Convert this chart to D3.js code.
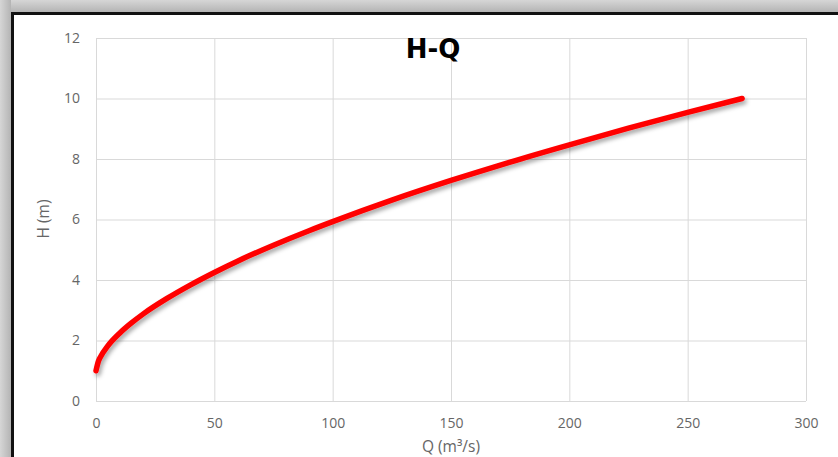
<!DOCTYPE html>
<html>
<head>
<meta charset="utf-8">
<script src="https://cdn.jsdelivr.net/npm/d3@7"></script>
<style>
  html, body { margin: 0; padding: 0; background: #ffffff; }
  svg { display: block; }
</style>
</head>
<body>
<svg id="chart" width="838" height="457"></svg>
<script>
// Data
const qValues = [0, 1, 2, 5, 10, 15, 20, 30, 40, 50, 60, 75, 90, 100, 125, 150, 175, 200, 225, 250, 273];
const hValues = [1.0, 1.31, 1.47, 1.82, 2.24, 2.58, 2.88, 3.39, 3.84, 4.25, 4.63, 5.15, 5.63, 5.93, 6.64, 7.29, 7.90, 8.47, 9.02, 9.54, 10.0];
const xTicks = [0, 50, 100, 150, 200, 250, 300];
const yTicks = [0, 2, 4, 6, 8, 10, 12];
const chartTitle = "H-Q";
const xTitle = "Q (m³/s)";
const yTitle = "H (m)";

(function () {
const svg = d3.select("#chart");
const W = 838, H = 457;

// Frame / backdrop
const defs = svg.append("defs");
const gTop = defs.append("linearGradient").attr("id", "gTop").attr("x1", 0).attr("y1", 0).attr("x2", 0).attr("y2", 1);
gTop.append("stop").attr("offset", "0%").attr("stop-color", "#d6d6d6");
gTop.append("stop").attr("offset", "100%").attr("stop-color", "#b4b4b4");
const gLeft = defs.append("linearGradient").attr("id", "gLeft").attr("x1", 0).attr("y1", 0).attr("x2", 1).attr("y2", 0);
gLeft.append("stop").attr("offset", "0%").attr("stop-color", "#d6d6d6");
gLeft.append("stop").attr("offset", "100%").attr("stop-color", "#b4b4b4");

svg.append("rect").attr("x", 0).attr("y", 0).attr("width", W).attr("height", 12).attr("fill", "url(#gTop)");
svg.append("rect").attr("x", 0).attr("y", 0).attr("width", 11).attr("height", H).attr("fill", "url(#gLeft)");
svg.append("rect").attr("x", 11).attr("y", 12).attr("width", W - 11).attr("height", 3).attr("fill", "#111");
svg.append("rect").attr("x", 11).attr("y", 12).attr("width", 3).attr("height", H - 12).attr("fill", "#111");
svg.append("rect").attr("x", 14).attr("y", 15).attr("width", W - 14).attr("height", H - 15).attr("fill", "#ffffff");

// Drop shadow filter for the line
const f = defs.append("filter").attr("id", "shadow").attr("x", "-10%").attr("y", "-10%").attr("width", "130%").attr("height", "130%");
f.append("feDropShadow").attr("dx", 2).attr("dy", 3).attr("stdDeviation", 2)
  .attr("flood-color", "#000").attr("flood-opacity", 0.35);

const pLeft = 96, pRight = 806, pTop = 38, pBottom = 401;
const x = d3.scaleLinear().domain([0, 300]).range([pLeft, pRight]);
const y = d3.scaleLinear().domain([0, 12]).range([pBottom, pTop]);

const gridColor = "#d9d9d9";
const labelColor = "#666666";
const font = "'Open Sans', 'DejaVu Sans', sans-serif";

// Gridlines
svg.append("g").selectAll("line").data(yTicks).join("line")
  .attr("x1", pLeft).attr("x2", pRight)
  .attr("y1", d => y(d) + 0.5).attr("y2", d => y(d) + 0.5)
  .attr("stroke", gridColor).attr("stroke-width", 1);
svg.append("g").selectAll("line").data(xTicks).join("line")
  .attr("y1", pTop).attr("y2", pBottom)
  .attr("x1", d => x(d) + 0.5).attr("x2", d => x(d) + 0.5)
  .attr("stroke", gridColor).attr("stroke-width", 1);

// Axes (labels only, via d3 axes)
const xAxis = d3.axisBottom(x).tickValues(xTicks).tickSize(0).tickPadding(17);
const gx = svg.append("g").attr("transform", `translate(0,${pBottom})`).call(xAxis);
gx.select(".domain").remove();
gx.selectAll("text").attr("fill", labelColor).style("font-family", font).style("font-size", "14px");

const yAxis = d3.axisLeft(y).tickValues(yTicks).tickSize(0).tickPadding(16);
const gy = svg.append("g").attr("transform", `translate(${pLeft},0)`).call(yAxis);
gy.select(".domain").remove();
gy.selectAll("text").attr("fill", labelColor).style("font-family", font).style("font-size", "14px");

// Series line
const line = d3.line().x((d, i) => x(qValues[i])).y(d => y(d)).curve(d3.curveMonotoneX);
svg.append("path").datum(hValues)
  .attr("d", line)
  .attr("fill", "none")
  .attr("stroke", "#ff0000")
  .attr("stroke-width", 5.5)
  .attr("stroke-linecap", "round")
  .attr("filter", "url(#shadow)");

// Title
svg.append("text").attr("x", 433).attr("y", 58).attr("text-anchor", "middle")
  .style("font-family", "'DejaVu Sans', sans-serif").style("font-weight", "bold").style("font-size", "26px")
  .attr("fill", "#000").text(chartTitle);

// Axis titles
svg.append("text").attr("x", 451).attr("y", 452).attr("text-anchor", "middle")
  .style("font-family", font).style("font-size", "15.5px").attr("fill", labelColor).text(xTitle);
svg.append("text").attr("transform", "translate(49,219) rotate(-90)").attr("text-anchor", "middle")
  .style("font-family", font).style("font-size", "15.5px").attr("fill", labelColor).text(yTitle);
})();
</script>
</body>
</html>
